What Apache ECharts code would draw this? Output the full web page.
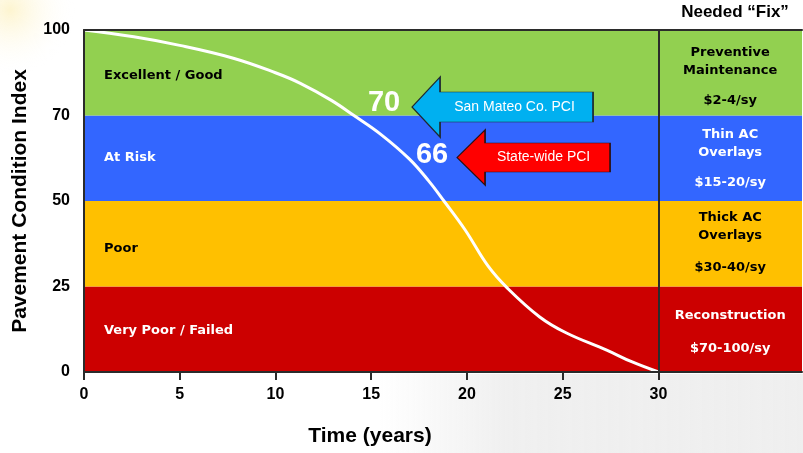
<!DOCTYPE html>
<html>
<head>
<meta charset="utf-8">
<script src="https://cdn.jsdelivr.net/npm/echarts@6/dist/echarts.min.js"></script>
<style>
  html, body { margin: 0; padding: 0; background: #fff; }
  #chart { width: 803px; height: 453px; }
</style>
</head>
<body>
<div id="chart"></div>
<script>
// pavement deterioration curve
const years = [0, 2.6, 5, 7.8, 10, 11.3, 12.9, 14.1, 15.5, 17.0, 18.0, 18.8, 19.9, 21.1, 22.1, 23.8, 25.2, 27.3, 28.6, 30];
const pci = [100, 97.6, 94.6, 90.1, 85.0, 81.3, 75.4, 70, 65.6, 59.8, 54.7, 50, 41.6, 31.0, 24.6, 16.1, 11.4, 6.4, 3.0, 0];

// y axis is banded, each band gets the same height
const pciTicks = [0, 25, 50, 70, 100];
const xTicks = [0, 5, 10, 15, 20, 25, 30];
const bandNames = ['Very Poor / Failed', 'Poor', 'At Risk', 'Excellent / Good'];
const bandColors = ['#CC0000', '#FFC000', '#3366FF', '#92D050'];
const bandTextColors = ['#fff', '#000', '#fff', '#000'];
const fixNames = [['Reconstruction'], ['Thick AC', 'Overlays'], ['Thin AC', 'Overlays'], ['Preventive', 'Maintenance']];
const fixCosts = ['$70-100/sy', '$30-40/sy', '$15-20/sy', '$2-4/sy'];
const sanMateoPci = 70;
const statewidePci = 66;

function toAxis(v) {
  for (let i = 0; i < pciTicks.length - 1; i++) {
    if (v <= pciTicks[i + 1]) {
      return i + (v - pciTicks[i]) / (pciTicks[i + 1] - pciTicks[i]);
    }
  }
  return pciTicks.length - 1;
}

const heavy = { fontFamily: 'DejaVu Sans', fontWeight: 'bold', fontSize: 13 };
const axisFont = { fontFamily: 'Liberation Sans', fontWeight: 'bold', color: '#000' };

// band label nudges, and fix-column layout (distance from band top, gap before the cost)
const bandLabelOffset = [1, 5, -1, 3];
const fixLayout = [
  { distance: 20, gap: 48 },
  { distance: 8, gap: 46 },
  { distance: 10, gap: 42 },
  { distance: 14, gap: 42 },
];

const leftBands = bandNames.map((name, i) => [
  {
    xAxis: 0, yAxis: i,
    itemStyle: { color: bandColors[i] },
    label: {
      show: true, position: 'insideLeft', distance: 20, offset: [0, bandLabelOffset[i]],
      formatter: name, color: bandTextColors[i], ...heavy,
    },
  },
  { xAxis: 30, yAxis: i + 1 },
]);

const rightBands = fixNames.map((lines, i) => [
  {
    xAxis: 30, yAxis: i,
    itemStyle: { color: bandColors[i] },
    label: {
      show: true,
      position: 'insideTop',
      distance: fixLayout[i].distance,
      formatter: lines.map(l => '{a|' + l + '}').join('\n') + '\n{b|' + fixCosts[i] + '}',
      rich: {
        a: { ...heavy, color: bandTextColors[i], lineHeight: 18, align: 'center' },
        b: { ...heavy, color: bandTextColors[i], lineHeight: fixLayout[i].gap, align: 'center' },
      },
    },
  },
  { xAxis: 37.5, yAxis: i + 1 },
]);

const chart = echarts.init(document.getElementById('chart'));

const option = {
  animation: false,
  title: [
    {
      text: 'Needed “Fix”', left: 735, top: 4, padding: 0, textAlign: 'center',
      textStyle: { ...axisFont, fontSize: 17 },
    },
    {
      text: 'Time (years)', left: 370, top: 426, padding: 0, textAlign: 'center',
      textStyle: { ...axisFont, fontSize: 21 },
    },
  ],
  graphic: [
    {
      type: 'circle', z: -10, silent: true,
      shape: { cx: 10, cy: 10, r: 65 },
      style: {
        fill: new echarts.graphic.RadialGradient(0.5, 0.5, 0.5, [
          { offset: 0, color: 'rgba(250,225,120,0.35)' },
          { offset: 1, color: 'rgba(255,255,255,0)' },
        ]),
      },
    },
    {
      type: 'rect', z: -10, silent: true,
      shape: { x: 380, y: 374, width: 423, height: 79 },
      style: {
        fill: new echarts.graphic.LinearGradient(0, 0, 1, 0, [
          { offset: 0, color: 'rgba(238,238,238,0)' },
          { offset: 0.3, color: 'rgba(238,238,238,0.9)' },
          { offset: 1, color: '#efefef' },
        ]),
      },
    },
  ],
  grid: { left: 84, right: 1, top: 30, bottom: 81, outerBoundsMode: 'none', containLabel: false },
  xAxis: [
    {
      type: 'value', min: 0, max: 37.5, interval: 5, z: 5,
      axisLine: { show: true, lineStyle: { color: '#2b2b2b', width: 2 } },
      axisTick: { show: true, length: 8, customValues: xTicks, lineStyle: { color: '#2b2b2b', width: 2 } },
      axisLabel: { customValues: xTicks, margin: 15, fontSize: 16, ...axisFont },
      splitLine: { show: false },
    },
    {
      type: 'value', position: 'top', min: 0, max: 37.5, z: 5,
      axisLine: { show: true, lineStyle: { color: '#2b2b2b', width: 2 } },
      axisTick: { show: false }, axisLabel: { show: false }, splitLine: { show: false },
    },
  ],
  yAxis: {
    type: 'value', min: 0, max: 4, interval: 1, z: 5,
    name: 'Pavement Condition Index',
    nameLocation: 'middle',
    nameGap: 53,
    nameTextStyle: { ...axisFont, fontSize: 21 },
    axisLine: { show: true, lineStyle: { color: '#2b2b2b', width: 2 } },
    axisTick: { show: false },
    axisLabel: { margin: 14, fontSize: 16, ...axisFont, formatter: v => pciTicks[v] },
    splitLine: { show: false },
  },
  series: [
    {
      type: 'line',
      data: years.map((y, i) => [y, toAxis(pci[i])]),
      smooth: 0.4,
      showSymbol: false,
      lineStyle: { color: '#fff', width: 3 },
      z: 3,
      markArea: { silent: true, data: leftBands.concat(rightBands) },
      markLine: {
        silent: true, symbol: 'none',
        label: { show: false },
        lineStyle: { color: '#2b2b2b', width: 2, type: 'solid' },
        data: [{ xAxis: 30 }],
      },
      markPoint: {
        silent: true,
        data: [
          {
            coord: [21.86, 3.099],
            symbol: 'path://M0,30L28,0L28,15L181,15L181,45L28,45L28,60Z',
            symbolSize: [181, 60],
            itemStyle: { color: '#00B0F0', borderColor: '#1f2a30', borderWidth: 1 },
            label: { show: true, position: 'inside', offset: [12, 0], formatter: 'San Mateo Co. PCI', color: '#fff', fontSize: 14, fontFamily: 'Liberation Sans' },
          },
          {
            coord: [23.48, 2.509],
            symbol: 'path://M0,27.5L28,0L28,13L153,13L153,42L28,42L28,55Z',
            symbolSize: [153, 55],
            itemStyle: { color: '#FF0000', borderColor: '#2a1010', borderWidth: 1 },
            label: { show: true, position: 'inside', offset: [10, 0], formatter: 'State-wide PCI', color: '#fff', fontSize: 14, fontFamily: 'Liberation Sans' },
          },
          {
            coord: [15.67, 3.146],
            symbol: 'circle', symbolSize: 1,
            itemStyle: { color: 'rgba(0,0,0,0)' },
            label: { show: true, position: 'inside', formatter: String(sanMateoPci), color: '#fff', fontSize: 29, fontWeight: 'bold', fontFamily: 'Liberation Sans' },
          },
          {
            coord: [18.18, 2.538],
            symbol: 'circle', symbolSize: 1,
            itemStyle: { color: 'rgba(0,0,0,0)' },
            label: { show: true, position: 'inside', formatter: String(statewidePci), color: '#fff', fontSize: 29, fontWeight: 'bold', fontFamily: 'Liberation Sans' },
          },
        ],
      },
    },
  ],
};

chart.setOption(option);
window.addEventListener('resize', () => chart.resize());
</script>
</body>
</html>
